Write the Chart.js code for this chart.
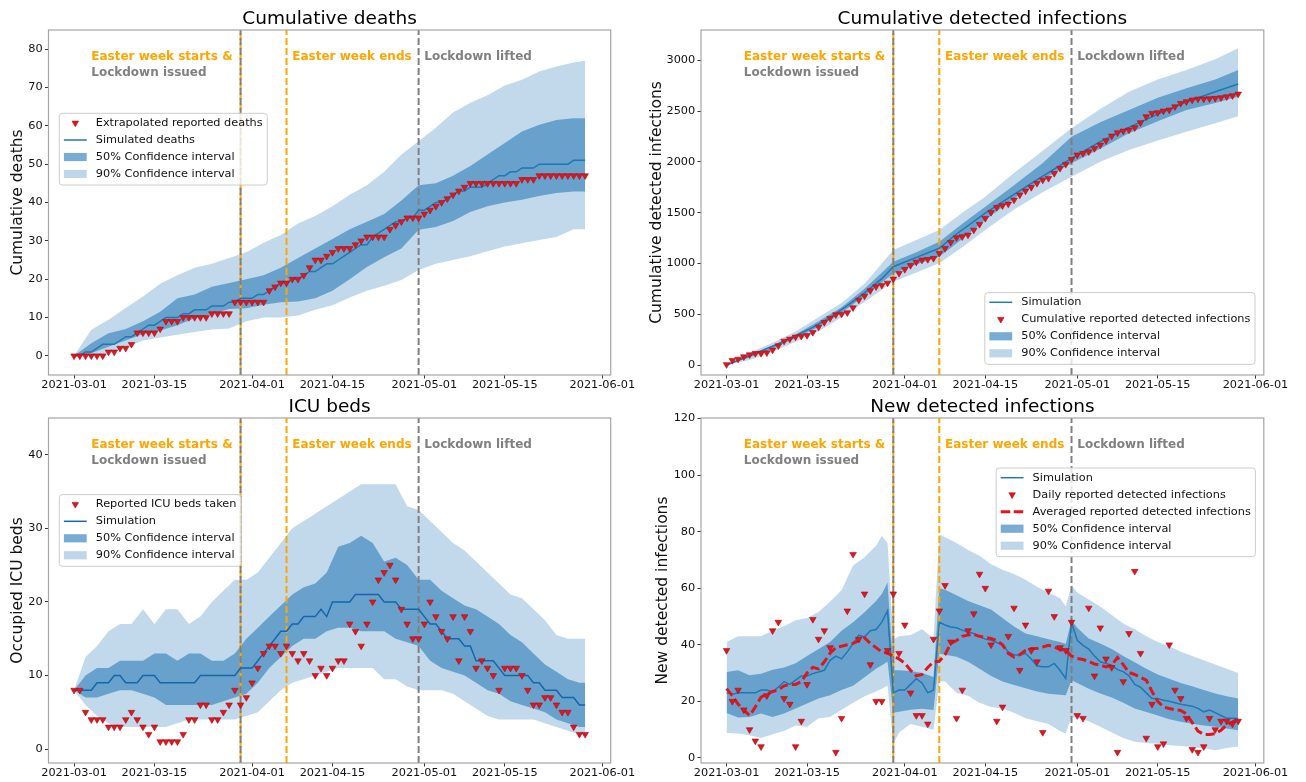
<!DOCTYPE html>
<html>
<head>
    <meta charset="UTF-8">
    <title>Model fit</title>
    <script src="https://cdn.jsdelivr.net/npm/chart.js@4.4.0/dist/chart.umd.min.js"></script>
    <style>
        body { margin: 0; background: #fff; }
        .wrap { position: relative; width: 1306px; height: 782px; overflow: hidden; }
        .wrap canvas { position: absolute; }
    </style>
</head>
<body>
<div class="wrap">
    <canvas id="deathsChart" width="650" height="400" style="left:0px;top:0px"></canvas>
    <canvas id="cumulativeChart" width="666" height="400" style="left:640px;top:0px"></canvas>
    <canvas id="icuChart" width="650" height="394" style="left:0px;top:388px"></canvas>
    <canvas id="newChart" width="666" height="394" style="left:640px;top:388px"></canvas>
</div>

<script>
    // x values are days counted from 2021-03-01
    const days = Array.from({ length: 90 }, (_, i) => i);
    const xTickDays = [0, 14, 31, 45, 61, 75, 92];
    const xTickLabels = ['2021-03-01', '2021-03-15', '2021-04-01', '2021-04-15', '2021-05-01', '2021-05-15', '2021-06-01'];
    const eventDays = [29, 37, 60];
    const noteDays = [3, 38, 61];
    const noteTexts = [['Easter week starts &', 'Lockdown issued'], ['Easter week ends'], ['Lockdown lifted']];

    // Cumulative deaths
    const deathsReported = [0, 0, 0, 0, 0, 0, 1, 1, 2, 2, 3, 6, 6, 6, 6, 7, 9, 9, 9, 10,
        10, 10, 10, 10, 11, 11, 11, 11, 14, 14, 14, 14, 14, 14, 17, 18, 19, 19, 20, 20,
        21, 23, 25, 25, 26, 27, 28, 28, 28, 29, 30, 31, 31, 31, 31, 33, 34, 35, 36, 36,
        36, 37, 38, 39, 40, 41, 42, 43, 44, 45, 45, 45, 45, 45, 45, 45, 45, 45, 46, 46,
        46, 47, 47, 47, 47, 47, 47, 47, 47, 47];
    const deathsSim = [0, 0, 1, 1, 2, 3, 3, 3, 4, 5, 5, 6, 7, 8, 8, 9, 10, 10, 10, 11,
        11, 12, 12, 12, 13, 13, 13, 14, 14, 15, 15, 15, 16, 16, 17, 18, 19, 19, 20, 20,
        21, 22, 22, 23, 24, 24, 25, 26, 27, 28, 29, 29, 31, 32, 33, 34, 35, 35, 36, 36,
        38, 38, 39, 40, 40, 41, 42, 43, 43, 44, 44, 44, 45, 46, 47, 47, 48, 48, 49, 49,
        49, 50, 50, 50, 50, 50, 50, 51, 51, 51];
    const deathsBandDays = [0, 3, 6, 9, 12, 15, 18, 21, 24, 27, 30, 33, 36, 39, 42, 45, 48, 51, 54, 57, 60, 63, 66, 69, 72, 75, 78, 81, 84, 87, 89];
    const deaths90Hi = [0, 6.8, 9.4, 12.5, 15.5, 18.8, 21, 23, 24, 25.5, 27, 29.5, 31.5, 34.5, 36.5, 39, 42, 44.5, 48, 52.5, 56, 59.5, 63.5, 66, 68, 70.5, 72, 74.2, 75.5, 76.5, 77];
    const deaths90Lo = [0, 0, 0.7, 2.2, 4, 4.8, 5.5, 6.2, 6.9, 7.1, 9, 10, 10, 10.5, 12, 13.2, 15.2, 17, 18.3, 19.8, 22.4, 24, 25, 26, 27.3, 28.5, 29.4, 30.2, 31, 33, 33];
    const deaths50Hi = [0, 3.3, 5.9, 7, 9, 11.5, 15, 16, 18, 19, 20, 21, 23, 25.5, 28, 30.5, 33, 35, 37, 40.5, 44.5, 45, 47, 49.5, 52.5, 55.5, 58.5, 60.3, 61.5, 62, 62];
    const deaths50Lo = [0, 0.7, 2.4, 4, 5.7, 6.6, 8, 9.8, 10.9, 12.2, 12.4, 13.3, 14, 14.2, 15, 17, 20, 23.2, 25.7, 28, 32.9, 33.6, 35.2, 37.5, 39, 40, 40.7, 41.7, 42.5, 42.9, 42.9];
    const deathsTicks = [0, 10, 20, 30, 40, 50, 60, 70, 80];

    // Cumulative detected infections
    const cumReported = [5, 46, 59, 82, 102, 115, 115, 121, 148, 190, 236, 256, 276, 285, 292, 322, 374, 420, 460, 495,
        502, 515, 564, 640, 679, 732, 771, 785, 807, 847, 903, 942, 981, 1014, 1034, 1040, 1050, 1100, 1149, 1208,
        1254, 1264, 1280, 1329, 1385, 1444, 1503, 1552, 1569, 1585, 1625, 1674, 1713, 1749, 1789, 1821, 1838, 1887, 1936, 1976,
        2025, 2068, 2084, 2100, 2133, 2166, 2209, 2255, 2287, 2304, 2314, 2337, 2386, 2445, 2478, 2484, 2501, 2511, 2543, 2576,
        2593, 2609, 2619, 2619, 2622, 2626, 2632, 2642, 2652, 2668];
    const cumSimDays = [0, 3, 6, 9, 12, 15, 18, 21, 24, 27, 29, 33, 37, 40, 45, 50, 55, 60, 65, 70, 75, 80, 85, 89];
    const cumSim = [0, 70, 140, 210, 290, 370, 470, 585, 710, 850, 968, 1060, 1149, 1290, 1495, 1680, 1860, 2035, 2200, 2340, 2470, 2590, 2690, 2767];
    const cumBandDays = [0, 4, 8, 12, 16, 20, 24, 29, 33, 37, 41, 45, 50, 55, 60, 65, 70, 75, 80, 85, 89];
    const cum90Hi = [0, 120, 220, 330, 470, 610, 800, 1132, 1230, 1329, 1500, 1657, 1890, 2110, 2330, 2520, 2691, 2810, 2904, 3010, 3118];
    const cum90Lo = [0, 50, 130, 230, 330, 470, 620, 820, 910, 1001, 1160, 1329, 1530, 1700, 1854, 2000, 2117, 2210, 2297, 2380, 2450];
    const cum50Hi = [0, 100, 190, 300, 430, 570, 750, 1017, 1110, 1214, 1390, 1559, 1770, 1990, 2248, 2390, 2511, 2630, 2724, 2810, 2904];
    const cum50Lo = [0, 75, 160, 265, 375, 515, 680, 902, 990, 1067, 1240, 1428, 1640, 1830, 1986, 2130, 2281, 2400, 2511, 2580, 2640];
    const cumTicks = [0, 500, 1000, 1500, 2000, 2500, 3000];

    // ICU beds
    const icuReported = [8, 8, 5, 4, 4, 4, 3, 3, 3, 4, 5, 4, 3, 2, 3, 1, 1, 1, 1, 2,
        4, 4, 6, 6, 4, 4, 5, 6, 8, 6, 7, 9, 11, 13, 14, 14, 13, 14, 13, 12,
        13, 12, 10, 11, 10, 11, 12, 12, 17, 16, 14, 17, 20, 23, 24, 25, 23, 19, 17, 15,
        15, 17, 20, 18, 16, 15, 18, 12, 18, 16, 11, 12, 11, 10, 8, 11, 11, 11, 10, 8,
        6, 6, 7, 7, 6, 5, 5, 3, 2, 2];
    const icuSim = [8, 8, 8, 8, 9, 9, 9, 10, 10, 9, 9, 9, 10, 10, 10, 9, 9, 9, 9, 9,
        9, 9, 10, 10, 10, 10, 10, 10, 10, 11, 11, 11, 12, 13, 14, 15, 16, 16, 17, 17,
        18, 18, 18, 19, 18, 20, 20, 20, 20, 21, 21, 21, 21, 21, 20, 20, 20, 19, 19, 19,
        19, 18, 17, 17, 16, 15, 15, 15, 14, 14, 12, 12, 12, 12, 11, 10, 10, 10, 10, 10,
        9, 9, 8, 8, 8, 7, 7, 7, 6, 6];
    const icuBandDays = [0, 2, 4, 6, 8, 10, 12, 14, 16, 18, 20, 22, 24, 26, 28, 30, 32, 34, 36, 38,
        40, 42, 44, 46, 48, 50, 52, 54, 56, 58, 60, 62, 64, 66, 68, 70, 72, 74, 76, 78,
        80, 82, 84, 86, 88, 89];
    const icu90Hi = [8, 12.5, 14, 16, 17, 17, 19, 17, 19, 19, 17, 18, 20, 21.5, 23, 23, 24, 26, 28, 30,
        31, 32, 33, 34, 35, 36, 36, 36, 36, 33, 32.5, 31, 29.5, 28, 27, 25.5, 24, 22.5, 21, 20.5,
        19, 17.5, 15.5, 15, 15, 15];
    const icu90Lo = [8, 6, 4.5, 3.5, 3, 3, 3, 3, 3, 3.5, 4, 4, 4, 4, 4, 4.5, 5, 6.5, 8, 9,
        9.5, 10, 10.5, 11, 11, 11, 11, 9.5, 9.5, 8.5, 8, 8, 8, 7.5, 6.5, 5.5, 4.5, 4, 4, 4,
        4, 3.5, 3, 2.5, 2, 2];
    const icu50Hi = [8, 10, 11, 11, 12, 12, 12, 13, 13, 12, 13, 13, 12, 12, 13, 15, 16.5, 18, 19.5, 21,
        22, 22.5, 24, 27.5, 28, 29, 28, 25.5, 26, 25, 23, 23, 21.5, 20.5, 19.5, 19, 18, 17, 15.5, 14.5,
        13, 11.5, 10.5, 9.5, 9, 9];
    const icu50Lo = [8, 7, 7, 7.5, 8, 8, 7.5, 7, 6, 6, 6, 6, 6, 6.5, 7, 7.5, 9, 11, 12.5, 14,
        15, 15, 16, 16.5, 16.5, 16, 16, 16, 15, 14.5, 14, 12, 11, 10.5, 10, 9, 8, 7.5, 6.5, 6,
        5.5, 5, 4, 3.5, 3, 3];
    const icuTicks = [0, 10, 20, 30, 40];

    // New detected infections
    const newReported = [38, 20, 24, 17, 10, 6, 4, 22, 45, 48, 21, 19, 4, 13, 26, 49, 42, 45, 39, 2,
        14, 52, 72, 42, 58, 33, 20, 20, 38, 58, 37, 47, 23, 15, 15, 12, 42, 52, 61, 41,
        14, 24, 45, 51, 65, 60, 40, 13, 18, 43, 53, 31, 47, 38, 34, 9, 59, 50, 39, 38,
        48, 15, 14, 53, 29, 46, 35, 32, 2, 27, 44, 66, 37, 7, 19, 4, 5, 40, 24, 21,
        14, 3, 2, 4, 14, 10, 13, 13, 12, 13];
    const newAveraged = [24.5, 22, 19, 17, 15, 18, 21.5, 22.5, 23.5, 24, 25.5, 26, 26, 27, 30, 32, 31.5, 34, 37, 39,
        39.5, 40, 40.5, 41.5, 42.5, 40.5, 39, 37.5, 37, 36, 35, 33.5, 31, 29, 29.5, 32, 34, 34.2, 36.5, 40.5,
        41.5, 43, 43.5, 43.7, 43, 42.6, 42.2, 41.5, 40, 37, 35.7, 36.5, 38, 38.7, 38.7, 39.2, 39.8, 39.3, 38.3, 38,
        36, 35.2, 34.8, 34.2, 33.2, 32.8, 32.2, 32.8, 35.5, 33, 30.2, 29.5, 28.5, 27.5, 23.5, 20, 18, 17.5, 17, 16.8,
        15.5, 12.5, 9.5, 8.3, 8.3, 8.6, 9.8, 11.6, 12.7, 13.9];
    const newSim = [23, 22.5, 23, 23, 23, 23, 24, 24, 23.4, 25, 27, 26, 27.5, 29, 29, 29.8, 30.4, 31, 34.5, 36,
        35, 37.5, 40.4, 43.4, 42.8, 45, 45.4, 48, 52, 23, 24, 24, 26, 28, 26.5, 23, 24, 48, 47, 46.3,
        46, 45.2, 44.5, 44, 43, 42, 41.6, 40.8, 40, 37.5, 36.5, 36.3, 37, 35, 32.5, 32.2, 32.2, 33.4, 31, 28,
        48, 41.6, 39.8, 38.5, 36, 34, 33.4, 32.8, 31.2, 30.5, 29, 26, 25, 23, 21, 21, 20.4, 20, 19.5, 19,
        18.6, 18.3, 17.5, 16.3, 16.9, 16, 15, 14, 14, 13.9];
    const newBandDays = [0, 2, 4, 6, 8, 10, 12, 14, 16, 18, 20, 22, 24, 26, 27, 28, 29, 30, 32, 34,
        36, 37, 38, 40, 42, 44, 46, 48, 50, 52, 54, 56, 58, 59, 60, 61, 63, 65, 67, 69,
        71, 73, 75, 77, 79, 81, 83, 85, 87, 89];
    const new90Hi = [41, 43, 43, 43, 45, 46.6, 48.7, 49.5, 51.6, 55.2, 59.3, 68, 71, 75, 78.5, 76, 42, 43, 43.5, 45.5,
        42.2, 79, 78, 76, 73.5, 71.5, 68.5, 66.5, 65, 63, 60.5, 58.5, 56.5, 53.5, 61, 58.5, 56, 53.5, 50.5, 47.5,
        45.5, 43, 41, 39.5, 37.5, 36, 34.5, 33, 31.5, 30];
    const new90Lo = [8.8, 8.6, 8, 7, 8.4, 9.5, 11.5, 11, 14, 14.5, 17, 19.5, 21.8, 23.5, 24.5, 25.5, 5, 9, 12, 11,
        10, 27, 27, 23, 22, 19.5, 18, 17.5, 16, 14, 13, 12, 9.5, 8.6, 14.5, 14.2, 13, 11, 9, 7,
        5.7, 5.3, 5, 4.5, 4.2, 3.9, 3.3, 2.7, 3.5, 4];
    const new50Hi = [30.4, 31, 29.2, 29.8, 31.2, 32, 33.5, 36, 38.5, 41, 45, 48, 51.5, 55.5, 58, 62, 31, 31, 30.7, 30,
        28.6, 60, 59.5, 57.5, 55.5, 54, 52.5, 49.5, 46.5, 44, 43, 42, 41, 40.4, 48.7, 46, 42.2, 40.5, 38.5, 36,
        33.8, 31.5, 29.5, 28, 26.5, 25.3, 24, 22.8, 21.8, 21];
    const new50Lo = [15.9, 14.3, 14.5, 15.7, 14.5, 15.7, 17.5, 19.2, 21, 22.2, 24, 25.5, 28.5, 31.5, 32.8, 34, 16, 16.3, 17, 17.4,
        16.9, 36.9, 36.5, 35.8, 34, 31.5, 29, 27, 25.8, 24.6, 23.5, 22.7, 22.3, 22.2, 27.5, 26.5, 24.5, 22.8, 21.4, 19.5,
        17.5, 16.2, 15, 13.7, 12.8, 12.1, 11.5, 11, 10.4, 9.8];
    const newTicks = [0, 20, 40, 60, 80, 100, 120];

    Chart.defaults.font.family = '"DejaVu Sans", sans-serif';
    Chart.defaults.color = '#111';

    const ORANGE = '#ffa500';
    const GRAY = '#808080';
    const RED = '#e2151f';
    const BLUE = '#1f77b4';
    const BAND90 = 'rgba(31, 119, 180, 0.28)';
    const BAND50 = 'rgba(31, 119, 180, 0.55)';
    const SWATCH90 = '#bfd6ea';
    const SWATCH50 = '#78acd4';
    const FS = 11.3;

    const pts = (xs, ys) => xs.map((x, i) => ({ x: x, y: ys[i] }));

    function downTriangle(ctx, x, y, r) {
        // same shape as chart.js 'triangle' point rotated 180 deg
        ctx.beginPath();
        for (let k = 0; k < 3; k++) {
            const a = Math.PI + k * 2 * Math.PI / 3;
            const px = x + Math.sin(a) * r, py = y - Math.cos(a) * r;
            if (k === 0) ctx.moveTo(px, py); else ctx.lineTo(px, py);
        }
        ctx.closePath();
        ctx.fillStyle = RED;
        ctx.fill();
        ctx.strokeStyle = '#a50f15';
        ctx.lineWidth = 0.6;
        ctx.stroke();
    }

    function drawLegend(ctx, area, spec) {
        ctx.font = FS + 'px "DejaVu Sans"';
        const textW = Math.max(...spec.items.map(it => ctx.measureText(it.text).width));
        const w = 41.1 + textW;
        const h = 20.7 + (spec.items.length - 1) * 17;
        const x0 = spec.left !== undefined ? area.left + spec.left : area.right - spec.right - w;
        const y0 = spec.top !== undefined ? area.top + spec.top : area.bottom - spec.bottom - h;

        ctx.beginPath();
        ctx.roundRect(x0, y0, w, h, 3);
        ctx.fillStyle = 'rgba(255,255,255,0.8)';
        ctx.fill();
        ctx.strokeStyle = '#cccccc';
        ctx.lineWidth = 1;
        ctx.stroke();

        spec.items.forEach((it, i) => {
            const cy = y0 + 9.7 + i * 17;
            const hx = x0 + 4.6;
            if (it.kind === 'marker') {
                downTriangle(ctx, hx + 11.4, cy, 3.8);
            } else if (it.kind === 'line') {
                ctx.beginPath();
                ctx.moveTo(hx, cy);
                ctx.lineTo(hx + 22.8, cy);
                ctx.strokeStyle = it.color;
                ctx.lineWidth = 1.5;
                ctx.stroke();
            } else if (it.kind === 'dash') {
                ctx.beginPath();
                ctx.setLineDash([9.5, 3.5]);
                ctx.moveTo(hx, cy);
                ctx.lineTo(hx + 22.8, cy);
                ctx.strokeStyle = RED;
                ctx.lineWidth = 3;
                ctx.stroke();
                ctx.setLineDash([]);
            } else {
                ctx.fillStyle = it.color;
                ctx.fillRect(hx, cy - 4.1, 22.8, 8.2);
            }
            ctx.fillStyle = '#111';
            ctx.textAlign = 'left';
            ctx.textBaseline = 'middle';
            ctx.fillText(it.text, x0 + 36.5, cy);
        });
    }

    function overlayPlugin(legendSpec) {
        return {
            id: 'overlay',
            afterDatasetsDraw(chart) {
                const ctx = chart.ctx;
                const a = chart.chartArea;
                const xs = chart.scales.x;
                ctx.save();
                ctx.strokeStyle = '#a6a6a6';
                ctx.lineWidth = 1.2;
                ctx.strokeRect(a.left, a.top, a.right - a.left, a.bottom - a.top);

                ctx.font = 'bold 12px "DejaVu Sans"';
                ctx.textAlign = 'left';
                ctx.textBaseline = 'middle';
                noteDays.forEach((d, i) => {
                    noteTexts[i].forEach((t, k) => {
                        ctx.fillStyle = t.startsWith('Easter') ? ORANGE : GRAY;
                        ctx.fillText(t, xs.getPixelForValue(d), a.top + 26.5 + 16 * k);
                    });
                });

                drawLegend(ctx, a, legendSpec);
                ctx.restore();
            }
        };
    }

    function buildChart(id, c) {
        const datasets = [];
        datasets.push({
            data: pts(days, c.reported), showLine: false, pointStyle: 'triangle', rotation: 180,
            pointRadius: 3.8, pointBackgroundColor: RED, pointBorderColor: '#a50f15', pointBorderWidth: 0.6, order: 0
        });
        if (c.averaged) {
            datasets.push({ data: pts(days, c.averaged), borderColor: RED, borderWidth: 3, borderDash: [9, 4], pointRadius: 0, order: 1 });
        }
        datasets.push({ data: pts(c.simDays, c.sim), borderColor: c.simColor || BLUE, borderWidth: 1.5, pointRadius: 0, order: 2 });

        // event markers: Easter start (with lockdown), Easter end, lockdown lifted
        // lower index is drawn on top, so the gray dashes sit over the orange ones
        const vline = (d) => [{ x: d, y: c.yMin }, { x: d, y: c.yMax }];
        datasets.push({ data: vline(eventDays[0]), borderColor: GRAY, borderWidth: 2, borderDash: [7, 3], pointRadius: 0, order: 3 });
        datasets.push({ data: vline(eventDays[0]), borderColor: ORANGE, borderWidth: 2, borderDash: [7, 3], borderDashOffset: 5, pointRadius: 0, order: 3 });
        datasets.push({ data: vline(eventDays[1]), borderColor: ORANGE, borderWidth: 2, borderDash: [7, 3], pointRadius: 0, order: 3 });
        datasets.push({ data: vline(eventDays[2]), borderColor: GRAY, borderWidth: 2, borderDash: [7, 3], pointRadius: 0, order: 3 });

        datasets.push({ data: pts(c.bandDays, c.lo50), borderColor: 'transparent', pointRadius: 0, fill: false, order: 4 });
        datasets.push({ data: pts(c.bandDays, c.hi50), borderColor: 'transparent', pointRadius: 0, fill: '-1', backgroundColor: BAND50, order: 4 });
        datasets.push({ data: pts(c.bandDays, c.lo90), borderColor: 'transparent', pointRadius: 0, fill: false, order: 5 });
        datasets.push({ data: pts(c.bandDays, c.hi90), borderColor: 'transparent', pointRadius: 0, fill: '-1', backgroundColor: BAND90, order: 5 });

        const tickGrid = { display: true, drawOnChartArea: false, drawTicks: true, tickLength: 3.5, color: '#333', lineWidth: 1 };

        new Chart(document.getElementById(id), {
            type: 'line',
            data: { datasets: datasets },
            options: {
                responsive: false,
                animation: false,
                devicePixelRatio: 1,
                events: [],
                layout: { padding: { left: 0, top: 0, right: c.padRight, bottom: c.padBottom } },
                elements: { line: { tension: 0 } },
                plugins: {
                    legend: { display: false },
                    tooltip: { enabled: false },
                    title: {
                        display: true, text: c.title, fullSize: false, color: '#000',
                        font: { size: 18.5, weight: 'normal' }, padding: { top: 7.8, bottom: 0 }
                    }
                },
                scales: {
                    x: {
                        type: 'linear', min: -4.45, max: 93.45,
                        afterBuildTicks: s => { s.ticks = xTickDays.map(v => ({ value: v })); },
                        afterFit: s => { s.height = 15; },
                        ticks: {
                            autoSkip: false, maxRotation: 0, padding: 0, color: '#111', font: { size: FS },
                            callback: v => xTickLabels[xTickDays.indexOf(v)]
                        },
                        grid: tickGrid,
                        border: { display: false }
                    },
                    y: {
                        min: c.yMin, max: c.yMax,
                        afterBuildTicks: s => { s.ticks = c.yTicks.map(v => ({ value: v })); },
                        afterFit: s => { s.width = c.axisWidth; },
                        ticks: { padding: 2.3, color: '#111', font: { size: FS }, callback: v => String(v) },
                        grid: tickGrid,
                        border: { display: false },
                        title: {
                            display: true, text: c.yLabel, color: '#111',
                            font: { size: 15.5 }, padding: { top: c.titlePad, bottom: 0 }
                        }
                    }
                }
            },
            plugins: [overlayPlugin(c.legend)]
        });
    }

    buildChart('deathsChart', {
        title: 'Cumulative deaths', yLabel: 'Cumulative deaths',
        reported: deathsReported, simDays: days, sim: deathsSim,
        bandDays: deathsBandDays, hi90: deaths90Hi, lo90: deaths90Lo, hi50: deaths50Hi, lo50: deaths50Lo,
        yMin: -5, yMax: 85, yTicks: deathsTicks,
        axisWidth: 48.5, padRight: 39.3, padBottom: 10, titlePad: 8.9,
        legend: {
            left: 10.8, top: 83.3, items: [
                { kind: 'marker', text: 'Extrapolated reported deaths' },
                { kind: 'line', color: BLUE, text: 'Simulated deaths' },
                { kind: 'patch', color: SWATCH50, text: '50% Confidence interval' },
                { kind: 'patch', color: SWATCH90, text: '90% Confidence interval' }
            ]
        }
    });

    buildChart('cumulativeChart', {
        title: 'Cumulative detected infections', yLabel: 'Cumulative detected infections',
        reported: cumReported, simDays: cumSimDays, sim: cumSim,
        bandDays: cumBandDays, hi90: cum90Hi, lo90: cum90Lo, hi50: cum50Hi, lo50: cum50Lo,
        yMin: -98, yMax: 3298, yTicks: cumTicks,
        axisWidth: 61, padRight: 42.2, padBottom: 10, titlePad: 7.3,
        legend: {
            right: 8.8, bottom: 10.7, items: [
                { kind: 'line', color: BLUE, text: 'Simulation' },
                { kind: 'marker', text: 'Cumulative reported detected infections' },
                { kind: 'patch', color: SWATCH50, text: '50% Confidence interval' },
                { kind: 'patch', color: SWATCH90, text: '90% Confidence interval' }
            ]
        }
    });

    buildChart('icuChart', {
        title: 'ICU beds', yLabel: 'Occupied ICU beds',
        reported: icuReported, simDays: days, sim: icuSim, simColor: '#1766aa',
        bandDays: icuBandDays, hi90: icu90Hi, lo90: icu90Lo, hi50: icu50Hi, lo50: icu50Lo,
        yMin: -1.9, yMax: 45, yTicks: icuTicks,
        axisWidth: 48.5, padRight: 39.3, padBottom: 4, titlePad: 8.5,
        legend: {
            left: 10.8, top: 76.6, items: [
                { kind: 'marker', text: 'Reported ICU beds taken' },
                { kind: 'line', color: '#1766aa', text: 'Simulation' },
                { kind: 'patch', color: SWATCH50, text: '50% Confidence interval' },
                { kind: 'patch', color: SWATCH90, text: '90% Confidence interval' }
            ]
        }
    });

    buildChart('newChart', {
        title: 'New detected infections', yLabel: 'New detected infections',
        reported: newReported, averaged: newAveraged, simDays: days, sim: newSim,
        bandDays: newBandDays, hi90: new90Hi, lo90: new90Lo, hi50: new50Hi, lo50: new50Lo,
        yMin: -1.8, yMax: 120.2, yTicks: newTicks,
        axisWidth: 61, padRight: 42.2, padBottom: 4, titlePad: 14.1,
        legend: {
            right: 8.4, top: 50, items: [
                { kind: 'line', color: BLUE, text: 'Simulation' },
                { kind: 'marker', text: 'Daily reported detected infections' },
                { kind: 'dash', text: 'Averaged reported detected infections' },
                { kind: 'patch', color: SWATCH50, text: '50% Confidence interval' },
                { kind: 'patch', color: SWATCH90, text: '90% Confidence interval' }
            ]
        }
    });
</script>
</body>
</html>
